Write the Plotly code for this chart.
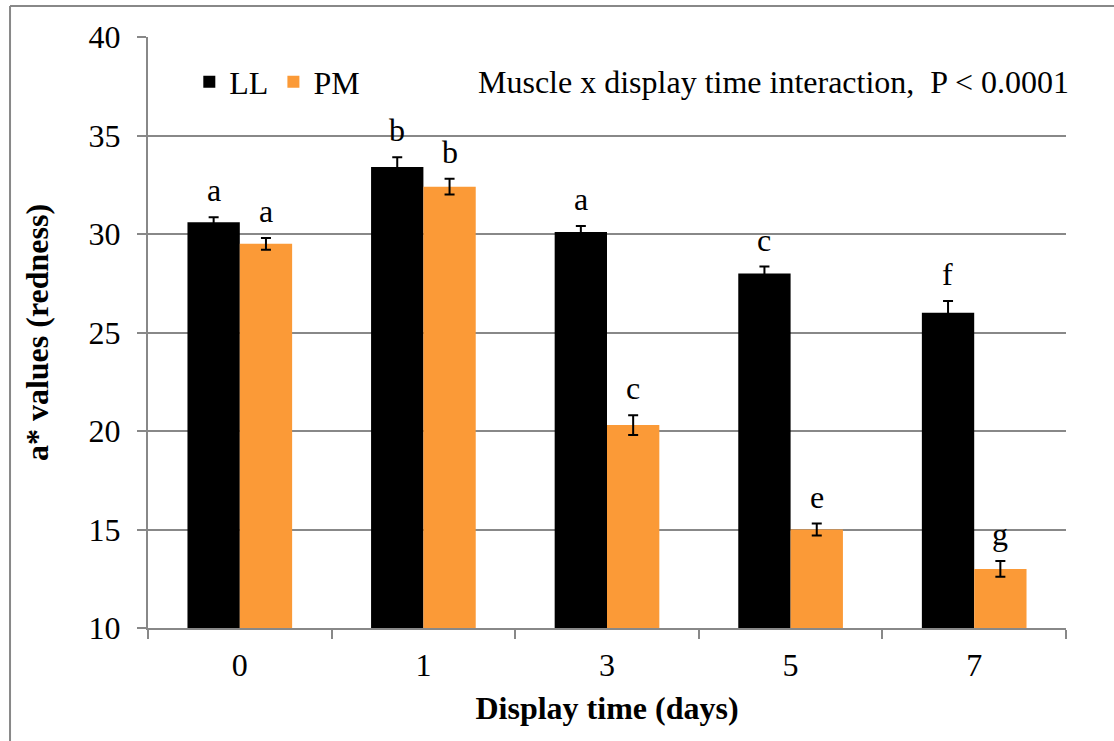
import plotly.graph_objects as go

# Display time groups (days)
days = ["0", "1", "3", "5", "7"]

# Mean a* values and standard errors for each muscle
ll_values = [30.6, 33.4, 30.1, 28.0, 26.0]
ll_errors = [0.25, 0.5, 0.3, 0.35, 0.6]
pm_values = [29.5, 32.4, 20.3, 15.0, 13.0]
pm_errors = [0.3, 0.4, 0.5, 0.3, 0.4]

# Significance letters
ll_letters = ["a", "b", "a", "c", "f"]
pm_letters = ["a", "b", "c", "e", "g"]

y_ticks = [10, 15, 20, 25, 30, 35, 40]

FONT = "Liberation Serif"
SIZE = 32
GRAY = "#888888"
ORANGE = "#FB9A37"

fig = go.Figure()
fig.add_trace(go.Bar(
    name="LL", x=days, y=ll_values, marker=dict(color="black", line=dict(width=0)),
    error_y=dict(type="data", array=ll_errors, color="black", thickness=2, width=5),
))
fig.add_trace(go.Bar(
    name="PM", x=days, y=pm_values, marker=dict(color=ORANGE, line=dict(width=0)),
    error_y=dict(type="data", array=pm_errors, color="black", thickness=2, width=5),
))

annotations = []
for i, d in enumerate(days):
    for letters, vals, errs, xs in ((ll_letters, ll_values, ll_errors, -0.143),
                                    (pm_letters, pm_values, pm_errors, 0.143)):
        annotations.append(dict(
            x=i + xs, y=vals[i] + errs[i], xref="x", yref="y",
            text=letters[i], showarrow=False, yanchor="bottom", yshift=7,
            font=dict(family=FONT, size=SIZE, color="black"),
        ))

annotations.append(dict(
    x=1.0054, y=0.924, xref="paper", yref="paper", xanchor="right", yanchor="middle",
    text="Muscle x display time interaction,  P < 0.0001", showarrow=False,
    font=dict(family=FONT, size=SIZE, color="black"),
))

fig.update_layout(
    width=1114, height=741,
    margin=dict(l=148, r=48, t=37, b=113),
    paper_bgcolor="white", plot_bgcolor="white",
    barmode="group", bargap=0.43, bargroupgap=0,
    font=dict(family=FONT, size=SIZE, color="black"),
    showlegend=True,
    legend=dict(orientation="h", x=0.045, y=0.924, xanchor="left", yanchor="middle",
                font=dict(family=FONT, size=SIZE, color="black"), bgcolor="rgba(0,0,0,0)",
                itemwidth=30, tracegroupgap=0),
    annotations=annotations,
    xaxis=dict(
        type="category", showline=True, linecolor=GRAY, linewidth=2,
        ticks="outside", tickson="boundaries", ticklen=9, tickcolor=GRAY, tickwidth=2,
        showgrid=False, tickfont=dict(family=FONT, size=SIZE, color="black"),
        ticklabelstandoff=8,
        title=dict(text="<b>Display time (days)</b>", font=dict(family=FONT, size=SIZE, color="black"),
                   standoff=14),
    ),
    yaxis=dict(
        range=[10, 40], tickvals=y_ticks, showline=True, linecolor=GRAY, linewidth=2,
        ticks="outside", ticklen=9, tickcolor=GRAY, tickwidth=2,
        showgrid=True, gridcolor=GRAY, gridwidth=2, zeroline=False,
        tickfont=dict(family=FONT, size=SIZE, color="black"),
        ticklabelstandoff=10,
        title=dict(text="<b>a* values (redness)</b>", font=dict(family=FONT, size=SIZE, color="black"),
                   standoff=30),
    ),
    shapes=[
        dict(type="line", xref="paper", yref="paper", x0=-0.1503, x1=1.06, y0=1.0525, y1=1.0525,
             line=dict(color=GRAY, width=2)),
        dict(type="line", xref="paper", yref="paper", x0=-0.1503, x1=-0.1503, y0=1.0525, y1=-0.21,
             line=dict(color=GRAY, width=2)),
    ],
)

fig.write_html("out.html")
